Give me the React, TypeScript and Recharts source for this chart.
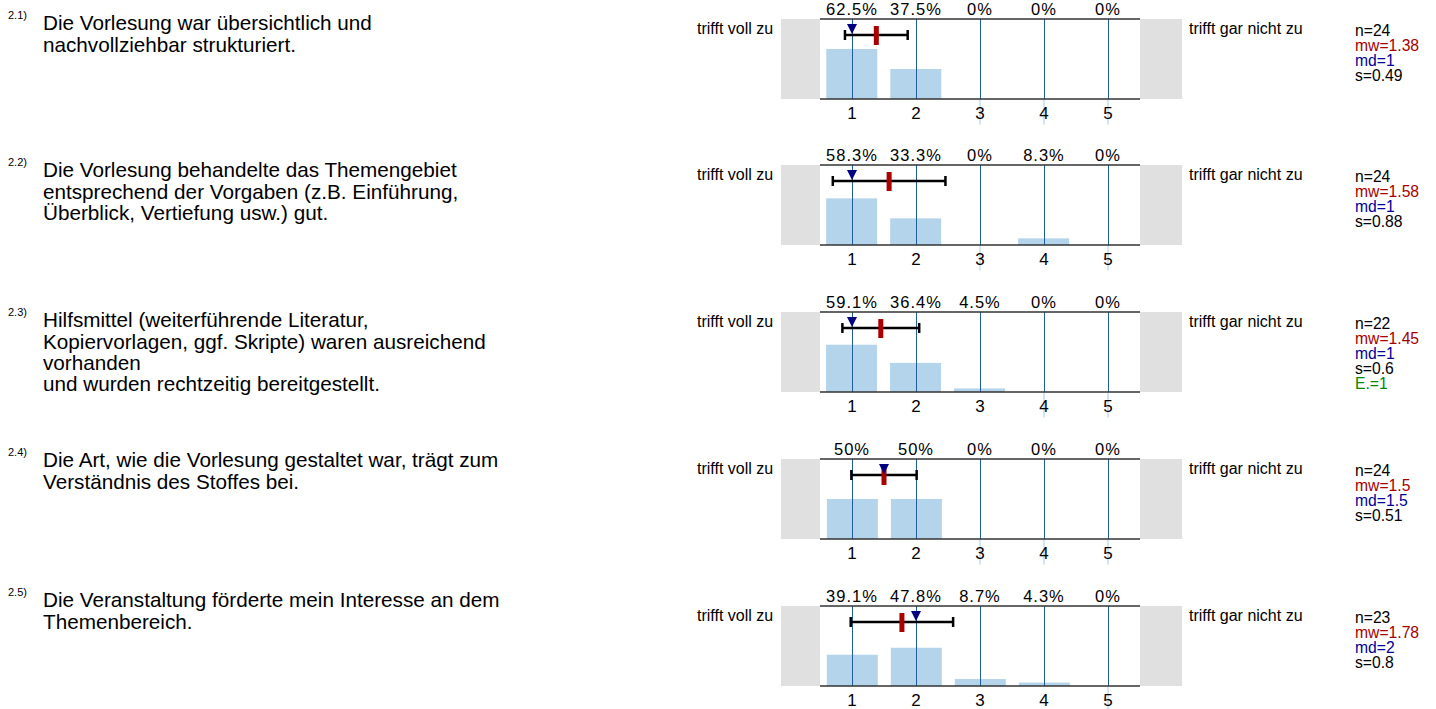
import React from 'react';
import { ComposedChart, Bar, XAxis, YAxis, Scatter, ErrorBar, ReferenceLine } from 'recharts';

// survey items
const questionIds = ['2.1)', '2.2)', '2.3)', '2.4)', '2.5)'];
const questionTexts = [
  ['Die Vorlesung war übersichtlich und', 'nachvollziehbar strukturiert.'],
  ['Die Vorlesung behandelte das Themengebiet', 'entsprechend der Vorgaben (z.B. Einführung,', 'Überblick, Vertiefung usw.) gut.'],
  ['Hilfsmittel (weiterführende Literatur,', 'Kopiervorlagen, ggf. Skripte) waren ausreichend', 'vorhanden', 'und wurden rechtzeitig bereitgestellt.'],
  ['Die Art, wie die Vorlesung gestaltet war, trägt zum', 'Verständnis des Stoffes bei.'],
  ['Die Veranstaltung förderte mein Interesse an dem', 'Themenbereich.'],
];
const leftPole = 'trifft voll zu';
const rightPole = 'trifft gar nicht zu';

const scaleValues = [1, 2, 3, 4, 5];
const percents = [
  [62.5, 37.5, 0, 0, 0],
  [58.3, 33.3, 0, 8.3, 0],
  [59.1, 36.4, 4.5, 0, 0],
  [50, 50, 0, 0, 0],
  [39.1, 47.8, 8.7, 4.3, 0],
];
const nValues = [24, 24, 22, 24, 23];
const meanValues = [1.38, 1.58, 1.45, 1.5, 1.78];
const medianValues = [1, 1, 1, 1.5, 2];
const sdValues = [0.49, 0.88, 0.6, 0.51, 0.8];
const abstentions: (number | null)[] = [null, null, 1, null, null];

// layout
const FONT = '"Liberation Sans", Arial, Helvetica, sans-serif';
const plotTops = [19, 165, 312, 459, 606];
const textBaselines = [30, 177, 327, 467, 607];
const PLOT_LEFT = 820;
const PLOT_W = 320;
const PLOT_H = 80;
const TOP_AXIS_H = 25;
const BAR_W = 51;
const MARK_Y = 80; // row of mean / sd marks, in % units of the y scale
const STUB_Y = -32; // faint stub under empty categories
const AXIS_STROKE = { stroke: '#333', strokeWidth: 1.5 };

const WideBar = (props: any) => {
  const { x, y, width, height, fill } = props;
  if (!height || height <= 0) return null;
  const mid = x + width / 2;
  return <rect x={mid - BAR_W / 2} y={y} width={BAR_W} height={height} fill={fill} />;
};

const MeanMark = (props: any) => {
  const { cx, cy } = props;
  return <rect x={cx - 2.5} y={cy - 9} width={5} height={19} fill="#aa0000" />;
};

const MedianMark = (props: any) => {
  const { cx, cy } = props;
  return <path d={`M${cx - 5},${cy - 11}L${cx + 5},${cy - 11}L${cx},${cy - 1}Z`} fill="#000080" />;
};

function ScaleChart({ idx }: { idx: number }) {
  const rows = scaleValues.map((v, i) => ({ x: v, y: percents[idx][i] }));
  const meanRow = [{ x: meanValues[idx], y: MARK_Y, err: sdValues[idx] }];
  const medianRow = [{ x: medianValues[idx], y: MARK_Y }];
  const empty = rows.filter((r) => r.y === 0);
  return (
    <ComposedChart
      width={PLOT_W}
      height={TOP_AXIS_H + PLOT_H + 30}
      data={rows}
      margin={{ top: 0, right: 0, bottom: 0, left: 0 }}
    >
      <Bar xAxisId="bottom" dataKey="y" fill="#b4d4ec" barSize={BAR_W} shape={WideBar} isAnimationActive={false} />
      <XAxis
        xAxisId="bottom"
        dataKey="x"
        type="number"
        domain={[0.5, 5.5]}
        ticks={scaleValues}
        interval={0}
        allowDataOverflow
        tickLine={false}
        axisLine={AXIS_STROKE}
        tick={{ fill: '#000', fontSize: 17 }}
        height={30}
      />
      <XAxis
        xAxisId="top"
        orientation="top"
        dataKey="x"
        type="number"
        domain={[0.5, 5.5]}
        ticks={scaleValues}
        interval={0}
        allowDataOverflow
        tickLine={false}
        tickSize={0}
        tickMargin={4}
        tickFormatter={(v: number) => `${percents[idx][scaleValues.indexOf(v)]}%`}
        axisLine={AXIS_STROKE}
        tick={{ fill: '#000', fontSize: 16.5, letterSpacing: 1 }}
        height={TOP_AXIS_H}
      />
      <YAxis hide dataKey="y" type="number" domain={[0, 100]} allowDataOverflow />
      {empty.map((r) => (
        <ReferenceLine
          key={`stub-${r.x}`}
          xAxisId="bottom"
          segment={[{ x: r.x, y: 0 }, { x: r.x, y: STUB_Y }]}
          ifOverflow="visible"
          stroke="#d3e5f4"
          strokeWidth={2}
        />
      ))}
      {scaleValues.map((v) => (
        <ReferenceLine
          key={v}
          xAxisId="bottom"
          x={v}
          stroke="#1f5d9e"
          strokeWidth={1}
          shapeRendering="crispEdges"
        />
      ))}
      <Scatter xAxisId="bottom" data={meanRow} dataKey="y" shape={MeanMark} isAnimationActive={false}>
        <ErrorBar dataKey="err" direction="x" width={5} stroke="#000" strokeWidth={2.5} isAnimationActive={false} />
      </Scatter>
      <Scatter xAxisId="bottom" data={medianRow} dataKey="y" shape={MedianMark} isAnimationActive={false} />
    </ComposedChart>
  );
}

function abs(style: React.CSSProperties): React.CSSProperties {
  return { position: 'absolute', whiteSpace: 'nowrap', ...style };
}

export default function App() {
  return (
    <div
      style={{
        position: 'absolute',
        left: 0,
        top: 0,
        width: 1436,
        height: 709,
        background: '#fff',
        fontFamily: FONT,
        color: '#000',
        overflow: 'hidden',
      }}
    >
      {questionIds.map((qid, i) => {
        const T = plotTops[i];
        const stats: { text: string; color: string }[] = [
          { text: `n=${nValues[i]}`, color: '#000' },
          { text: `mw=${meanValues[i]}`, color: '#a50000' },
          { text: `md=${medianValues[i]}`, color: '#000099' },
          { text: `s=${sdValues[i]}`, color: '#000' },
        ];
        if (abstentions[i] != null) stats.push({ text: `E.=${abstentions[i]}`, color: '#008800' });
        return (
          <React.Fragment key={qid}>
            <div style={abs({ left: 8, top: textBaselines[i] - 11 - 9.3, fontSize: 11, lineHeight: '11px' })}>{qid}</div>
            <div style={abs({ left: 43, top: textBaselines[i] - 17.7, fontSize: 20.7, lineHeight: '21.3px' })}>
              {questionTexts[i].map((l, k) => (
                <div key={k}>{l}</div>
              ))}
            </div>
            <div style={abs({ left: 697, top: T + 1.8, fontSize: 16, lineHeight: '16px' })}>{leftPole}</div>
            <div style={abs({ left: 781, top: T, width: 39, height: PLOT_H, background: '#e0e0e0' })} />
            <div style={abs({ left: 1140, top: T, width: 42, height: PLOT_H, background: '#e0e0e0' })} />
            <div style={abs({ left: PLOT_LEFT, top: T - TOP_AXIS_H })}>
              <ScaleChart idx={i} />
            </div>
            <div style={abs({ left: 1189, top: T + 1.8, fontSize: 16, lineHeight: '16px' })}>{rightPole}</div>
            <div style={abs({ left: 1355, top: T + 4, fontSize: 15.7, lineHeight: '15px' })}>
              {stats.map((s) => (
                <div key={s.text} style={{ color: s.color }}>
                  {s.text}
                </div>
              ))}
            </div>
          </React.Fragment>
        );
      })}
    </div>
  );
}
